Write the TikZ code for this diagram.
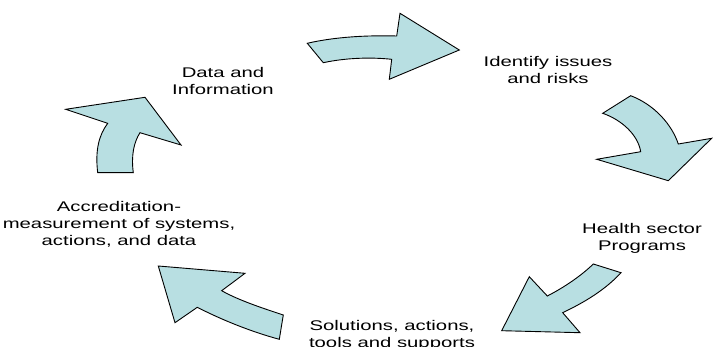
\documentclass[tikz,border=0pt]{standalone}
\usepackage{fontspec}
\setmainfont{Liberation Sans}
\usepackage{xcolor}
\usepackage{tikz}
\definecolor{cyclefill}{RGB}{184,223,226}

\begin{document}
\begin{tikzpicture}[
  x=1pt,y=-1pt,
  bigarrow/.style={fill=cyclefill,draw=black,line width=0.9pt,line join=miter},
  lbl/.style={font=\fontsize{14}{17}\selectfont,align=center,anchor=base,
              inner sep=0pt,xscale=1.45,transform shape}
]
  \useasboundingbox (0,0) rectangle (713,347);

  % stages of the cycle (placed at the baseline of their last line)
  \node[lbl] (data) at (223,95) {Data and\\Information};
  \node[lbl] (issues) at (548,84) {Identify issues\\and risks};
  \node[lbl] (health) at (642,251) {Health sector\\Programs};
  \node[lbl] (solve) at (392,347.5) {Solutions, actions,\\tools and supports};
  \node[lbl] (accred) at (119,246) {Accreditation-\\measurement of systems,\\actions, and data};

  % block arrows between the stages
  \draw[bigarrow] (307.3,43.3) -- (323.3,62.7)
    .. controls (345,58) and (370,57) .. (391.7,59.3)
    -- (389.3,79.3) -- (459.3,50) -- (400,13.3) -- (396.7,36)
    .. controls (360,35) and (330,38) .. cycle;

  \draw[bigarrow] (602.7,113.3) -- (630.7,95.7)
    .. controls (655,105) and (672,125) .. (678.3,144)
    -- (711.7,138.3) -- (668.3,180.7) -- (596.7,159.3) -- (640.7,151.7)
    .. controls (638,135) and (622,120) .. cycle;

  \draw[bigarrow] (593.3,264) -- (621,272.7)
    .. controls (605,290) and (585,302) .. (562.7,312.7)
    -- (580,332.7) -- (501.7,330.7) -- (529.3,276.7) -- (547.3,296)
    .. controls (565,287) and (582,275) .. cycle;

  \draw[bigarrow] (279.3,339.3) -- (283.3,315)
    .. controls (262,308) and (238,300) .. (221.7,290.7)
    -- (245,273.3) -- (158.3,266) -- (175,322.7) -- (197.3,307.3)
    .. controls (222,320) and (252,332) .. cycle;

  \draw[bigarrow] (97.7,172.7) -- (133.3,172.7)
    .. controls (131,155) and (134,142) .. (140,132.7)
    -- (181,145) -- (145,97.3) -- (65.7,109.3) -- (107.7,123.3)
    .. controls (99,135) and (95,150) .. cycle;
\end{tikzpicture}
\end{document}
